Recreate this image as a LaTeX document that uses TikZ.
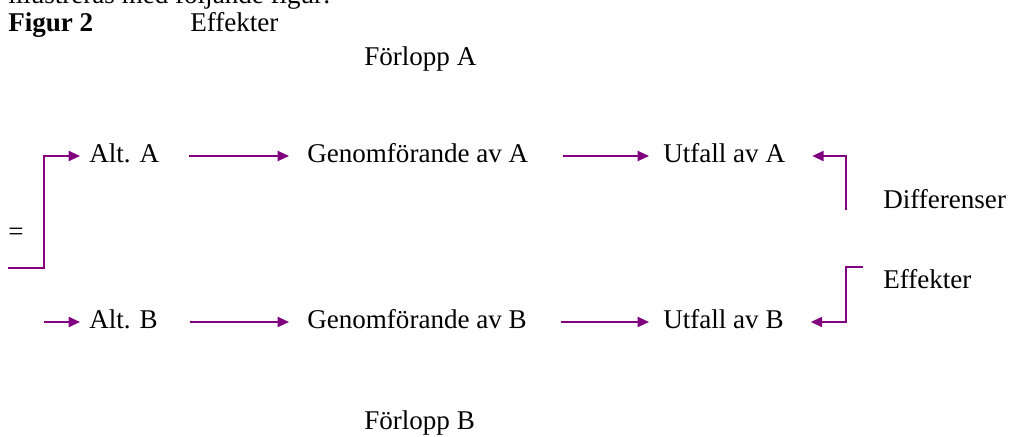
\documentclass[tikz,border=0pt]{standalone}
\usepackage{fontspec}
\setmainfont{Liberation Serif}
\usetikzlibrary{arrows.meta}
\definecolor{arrowpurple}{RGB}{128,0,128}
\tikzset{
  txt/.style={anchor=base west, inner sep=0pt, font=\fontsize{20.3}{24}\selectfont},
  rowtxt/.style={txt, text height=13pt, text depth=4pt},
  conn/.style={draw=arrowpurple, line width=1.5pt},
  arr/.style={conn, -{Triangle[length=8.5pt,width=7.5pt]}},
}
\begin{document}
\begin{tikzpicture}[x=0.75pt,y=-0.75pt]
\useasboundingbox (0,0) rectangle (1009,436);
\begin{scope}
\clip (0,0) rectangle (1009,436);
\node[txt] (intro) at (8,3) {illustreras med följande figur:};
\end{scope}
\node[txt, font=\fontsize{20.3}{24}\selectfont\bfseries] (fig) at (8,31) {Figur 2};
\node[txt] (effTop) at (190,31) {Effekter};
\node[txt] (forA) at (364,65) {Förlopp A};
\node[txt] (forB) at (364,429) {Förlopp B};
\node[txt] (diff) at (883,208) {Differenser};
\node[txt] (effR) at (883,288) {Effekter};
\node[txt, anchor=west] (eq) at (8,234) {=};

\node[rowtxt] (altA) at (89,162) {Alt. A};
\node[rowtxt] (genA) at (307,162) {Genomförande av A};
\node[rowtxt] (utfA) at (663,162) {Utfall av A};
\node[rowtxt] (altB) at (89,328) {Alt. B};
\node[rowtxt] (genB) at (307,328) {Genomförande av B};
\node[rowtxt] (utfB) at (663,328) {Utfall av B};

\coordinate (lbA) at (8,268);
\coordinate (lbB) at (44,322);
\coordinate (rbA) at (846,210);
\coordinate (rbB) at (863,267);

\draw[arr, shorten >=6.75pt] (lbA) -- ++(36,0) |- (altA.west);
\draw[arr, shorten >=6.75pt] (lbB) -- (lbB -| altB.west);
\draw[arr, shorten <=22.5pt, shorten >=13.5pt] (altA.east) -- (genA.west);
\draw[arr, shorten <=25.5pt, shorten >=10.5pt] (genA.east) -- (utfA.west);
\draw[arr, shorten <=24pt, shorten >=13.5pt] (altB.east) -- (genB.west);
\draw[arr, shorten <=25.5pt, shorten >=10.5pt] (genB.east) -- (utfB.west);
\draw[arr, shorten >=20.25pt] (rbA) |- (utfA.east);
\draw[arr, shorten >=20.25pt] (rbB) -- ++(-17,0) |- (utfB.east);
\end{tikzpicture}
\end{document}
